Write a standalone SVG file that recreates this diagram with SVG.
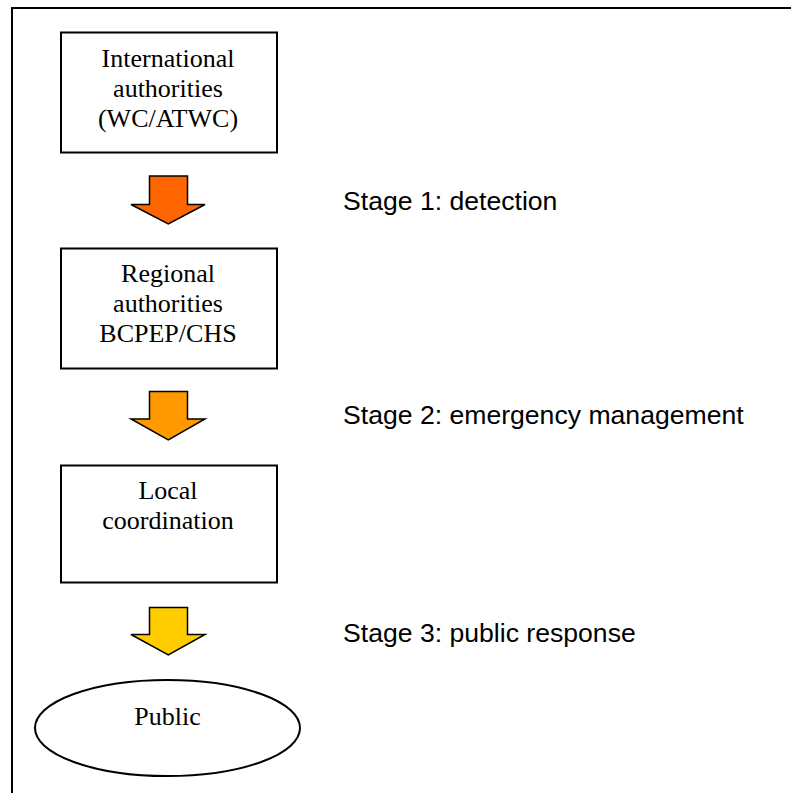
<svg xmlns="http://www.w3.org/2000/svg" width="791" height="793" viewBox="0 0 791 793">
<style>
.box{fill:#fff;stroke:#000;stroke-width:2}
.t{font-family:"Liberation Serif","Times New Roman",serif;font-size:26px;fill:#000;text-anchor:middle}
.s{font-family:"Liberation Sans",Arial,sans-serif;font-size:26.6px;fill:#000}
.arr{stroke:#000;stroke-width:1.5;stroke-linejoin:miter}
</style>
<rect width="791" height="793" fill="#fff"/>
<path d="M12,793 V8 H791" fill="none" stroke="#000" stroke-width="2"/>
<g id="n1">
<rect class="box" x="61" y="32.5" width="216" height="120"/>
<text class="t" x="168" y="66.5">International</text>
<text class="t" x="168" y="96.5">authorities</text>
<text class="t" x="168" y="126.5">(WC/ATWC)</text>
</g>
<g id="n2">
<rect class="box" x="61" y="248.5" width="216" height="120"/>
<text class="t" x="168" y="281.5">Regional</text>
<text class="t" x="168" y="311.5">authorities</text>
<text class="t" x="168" y="341.5">BCPEP/CHS</text>
</g>
<g id="n3">
<rect class="box" x="61" y="465.5" width="216" height="117"/>
<text class="t" x="168" y="499">Local</text>
<text class="t" x="168" y="528.5">coordination</text>
</g>
<g id="n4">
<ellipse cx="167.5" cy="728" rx="132.5" ry="48" fill="#fff" stroke="#000" stroke-width="2"/>
<text class="t" x="167.5" y="725">Public</text>
</g>
<g id="connectors">
<polygon class="arr" fill="#FF6600" points="149.5,176 187.5,176 187.5,204.5 205,204.5 168.3,224 131,204.5 149.5,204.5"/>
<polygon class="arr" fill="#FF9900" points="149.5,391.5 187.5,391.5 187.5,419 205,419 168.3,440 131,419 149.5,419"/>
<polygon class="arr" fill="#FFCC00" points="149.5,607.5 187.5,607.5 187.5,634.5 205,634.5 168.3,655 131,634.5 149.5,634.5"/>
</g>
<g id="labels">
<text class="s" x="343" y="209.5">Stage 1: detection</text>
<text class="s" x="343" y="424">Stage 2: emergency management</text>
<text class="s" x="343" y="642">Stage 3: public response</text>
</g>
</svg>
